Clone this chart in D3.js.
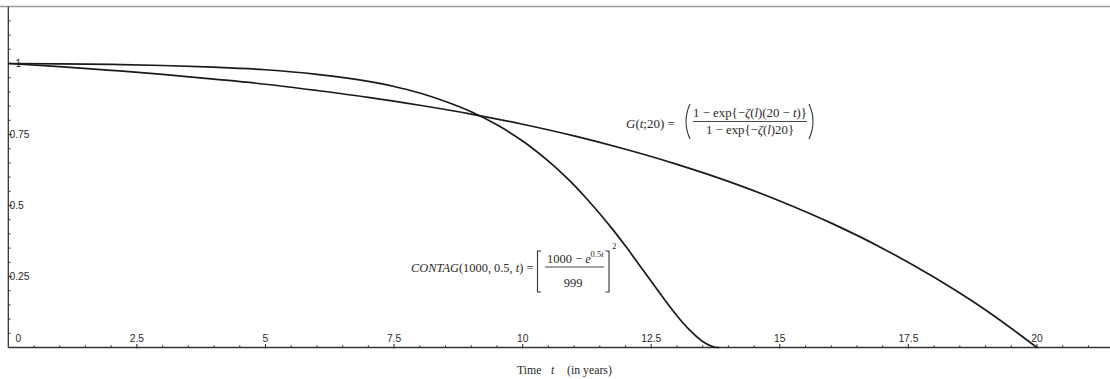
<!DOCTYPE html>
<html>
<head>
<meta charset="utf-8">
<script src="https://cdn.jsdelivr.net/npm/d3@7"></script>
<style>
  html, body { margin: 0; padding: 0; background: #fff; }
  svg { display: block; }
  .tick-label { font-family: "Liberation Sans", Arial, sans-serif; font-size: 10.3px; fill: #2a2a2a; }
  .math { font-family: "Liberation Serif", "Times New Roman", serif; fill: #2a2a2a; }
</style>
</head>
<body>
<svg id="chart" width="1110" height="379"></svg>
<script>
// Survival curves: G(t;20) and CONTAG(1000, 0.5, t) over time in years
const gTimes = [0, 1, 2, 3, 4, 5, 6, 7, 8, 9, 10, 11, 12, 13, 14, 15, 16, 17, 18, 19, 20];
const gValues = [1, 0.989, 0.976, 0.962, 0.945, 0.927, 0.905, 0.881, 0.853, 0.822, 0.786,
                 0.745, 0.698, 0.645, 0.585, 0.516, 0.438, 0.349, 0.247, 0.132, 0];

const contagTimes = [0, 1, 2, 3, 4, 5, 6, 7, 7.5, 8, 8.5, 9, 9.5, 10, 10.5, 10.75, 11, 11.25,
                     11.5, 11.75, 12, 12.25, 12.5, 12.75, 13, 13.25, 13.5, 13.75, 13.82];
const contagValues = [1, 0.999, 0.997, 0.993, 0.987, 0.978, 0.962, 0.937, 0.919, 0.896, 0.866,
                      0.830, 0.784, 0.727, 0.656, 0.616, 0.572, 0.523, 0.471, 0.416, 0.357,
                      0.295, 0.233, 0.171, 0.112, 0.061, 0.021, 0.001, 0];

const xTickValues = [0, 2.5, 5, 7.5, 10, 12.5, 15, 17.5, 20];
const xTickLabels = ["0", "2.5", "5", "7.5", "10", "12.5", "15", "17.5", "20"];
const yTickValues = [0.25, 0.5, 0.75, 1];
const yTickLabels = ["0.25", "0.5", "0.75", "1"];

const svg = d3.select("#chart");
const W = 1110;

const x = d3.scaleLinear().domain([0, 20]).range([8.3, 1037]);
const y = d3.scaleLinear().domain([0, 1.2]).range([347.5, 6.7]);
const x0 = x(0), y0 = y(0);

// frame line along the top
svg.append("line")
  .attr("x1", 0).attr("x2", W).attr("y1", 6.5).attr("y2", 6.5)
  .attr("stroke", "#9a9a9a").attr("stroke-width", 1.6);

const axisColor = "#333";

// x axis line with inward ticks
svg.append("line")
  .attr("x1", x0).attr("x2", W).attr("y1", y0).attr("y2", y0)
  .attr("stroke", axisColor).attr("stroke-width", 1.3);

const xMax = x.invert(W);
const xMinor = d3.range(0.5, xMax, 0.5).filter(v => Math.abs(v / 2.5 - Math.round(v / 2.5)) > 1e-6);
svg.append("g").selectAll("line").data(xMinor).join("line")
  .attr("x1", d => x(d)).attr("x2", d => x(d))
  .attr("y1", y0).attr("y2", y0 - 2.2)
  .attr("stroke", axisColor).attr("stroke-width", 1);
svg.append("g").selectAll("line").data(xTickValues.filter(v => v > 0)).join("line")
  .attr("x1", d => x(d)).attr("x2", d => x(d))
  .attr("y1", y0 + 1).attr("y2", y0 - 3.5)
  .attr("stroke", axisColor).attr("stroke-width", 1.1);

svg.append("g").selectAll("text").data(xTickValues).join("text")
  .attr("class", "tick-label")
  .attr("x", (d, i) => d === 0 ? x(d) + 10 : x(d))
  .attr("y", y0 - 5.8)
  .attr("text-anchor", "middle")
  .text((d, i) => xTickLabels[i]);

// y axis line with inward ticks
svg.append("line")
  .attr("x1", x0).attr("x2", x0).attr("y1", y0).attr("y2", y(1.2))
  .attr("stroke", axisColor).attr("stroke-width", 1.3);

const yMinor = d3.range(0.05, 1.2, 0.05).filter(v => Math.abs(v / 0.25 - Math.round(v / 0.25)) > 1e-6);
svg.append("g").selectAll("line").data(yMinor).join("line")
  .attr("x1", x0).attr("x2", x0 + 2.2)
  .attr("y1", d => y(d)).attr("y2", d => y(d))
  .attr("stroke", axisColor).attr("stroke-width", 1);
svg.append("g").selectAll("line").data(yTickValues).join("line")
  .attr("x1", x0).attr("x2", x0 + 3.5)
  .attr("y1", d => y(d)).attr("y2", d => y(d))
  .attr("stroke", axisColor).attr("stroke-width", 1.1);

svg.append("g").selectAll("text").data(yTickValues).join("text")
  .attr("class", "tick-label")
  .attr("x", (d, i) => yTickLabels[i].length === 1 ? x0 + 10 : x0 + 1.2)
  .attr("y", d => y(d) + 3.6)
  .attr("text-anchor", (d, i) => yTickLabels[i].length === 1 ? "middle" : "start")
  .text((d, i) => yTickLabels[i]);

// curves
const line = d3.line()
  .x(d => x(d[0]))
  .y(d => y(d[1]))
  .curve(d3.curveMonotoneX);

const gPoints = gTimes.map((t, i) => [t, gValues[i]]);
const contagPoints = contagTimes.map((t, i) => [t, contagValues[i]]);

svg.append("path").datum(gPoints)
  .attr("d", line).attr("fill", "none")
  .attr("stroke", "#1a1a1a").attr("stroke-width", 1.7);
svg.append("path").datum(contagPoints)
  .attr("d", line).attr("fill", "none")
  .attr("stroke", "#1a1a1a").attr("stroke-width", 1.7);

// helper for formula text pieces
function mathText(parent, xPos, yPos, size, parts, anchor) {
  const t = parent.append("text")
    .attr("class", "math")
    .attr("x", xPos).attr("y", yPos)
    .attr("font-size", size)
    .attr("text-anchor", anchor || "start");
  parts.forEach(p => {
    const s = t.append("tspan").text(p.s);
    if (p.i) s.attr("font-style", "italic");
  });
  return t;
}

const labels = svg.append("g");

// G(t;20) label
mathText(labels, 626, 127.5, 13, [
  { s: "G", i: true }, { s: "(" }, { s: "t", i: true }, { s: ";20) =" }
]);
mathText(labels, 750, 116.5, 12.8, [
  { s: "1 − exp{−" }, { s: "ζ", i: true }, { s: "(" }, { s: "l", i: true },
  { s: ")(20 − " }, { s: "t", i: true }, { s: ")}" }
], "middle");
labels.append("line")
  .attr("x1", 693).attr("x2", 807).attr("y1", 121.5).attr("y2", 121.5)
  .attr("stroke", "#333").attr("stroke-width", 0.9);
mathText(labels, 750, 134, 12.8, [
  { s: "1 − exp{−" }, { s: "ζ", i: true }, { s: "(" }, { s: "l", i: true }, { s: ")20}" }
], "middle");
// large parentheses
labels.append("path")
  .attr("d", "M690,104 Q682,121.5 690,139")
  .attr("fill", "none").attr("stroke", "#333").attr("stroke-width", 1.1);
labels.append("path")
  .attr("d", "M809,104 Q817,121.5 809,139")
  .attr("fill", "none").attr("stroke", "#333").attr("stroke-width", 1.1);

// CONTAG label
mathText(labels, 411, 271.5, 12.4, [
  { s: "CONTAG", i: true }, { s: "(1000, 0.5, " }, { s: "t", i: true }, { s: ") =" }
]);
mathText(labels, 547, 262.5, 12.5, [
  { s: "1000 − " }, { s: "e", i: true }
]);
mathText(labels, 590.5, 257, 8.5, [
  { s: "0.5" }, { s: "t", i: true }
]);
labels.append("line")
  .attr("x1", 545).attr("x2", 604).attr("y1", 267).attr("y2", 267)
  .attr("stroke", "#333").attr("stroke-width", 0.9);
mathText(labels, 573, 286.5, 12.5, [{ s: "999" }], "middle");
// square brackets
labels.append("path")
  .attr("d", "M541,251 H537.5 V292 H541")
  .attr("fill", "none").attr("stroke", "#333").attr("stroke-width", 1.1);
labels.append("path")
  .attr("d", "M605.5,251 H609 V292 H605.5")
  .attr("fill", "none").attr("stroke", "#333").attr("stroke-width", 1.1);
mathText(labels, 612, 249, 9, [{ s: "2" }]);

// x axis title
mathText(svg, 517, 374, 11.8, [{ s: "Time" }]);
mathText(svg, 551, 374, 11.8, [{ s: "t", i: true }]);
mathText(svg, 567, 374, 11.8, [{ s: "(in years)" }]);
</script>
</body>
</html>
